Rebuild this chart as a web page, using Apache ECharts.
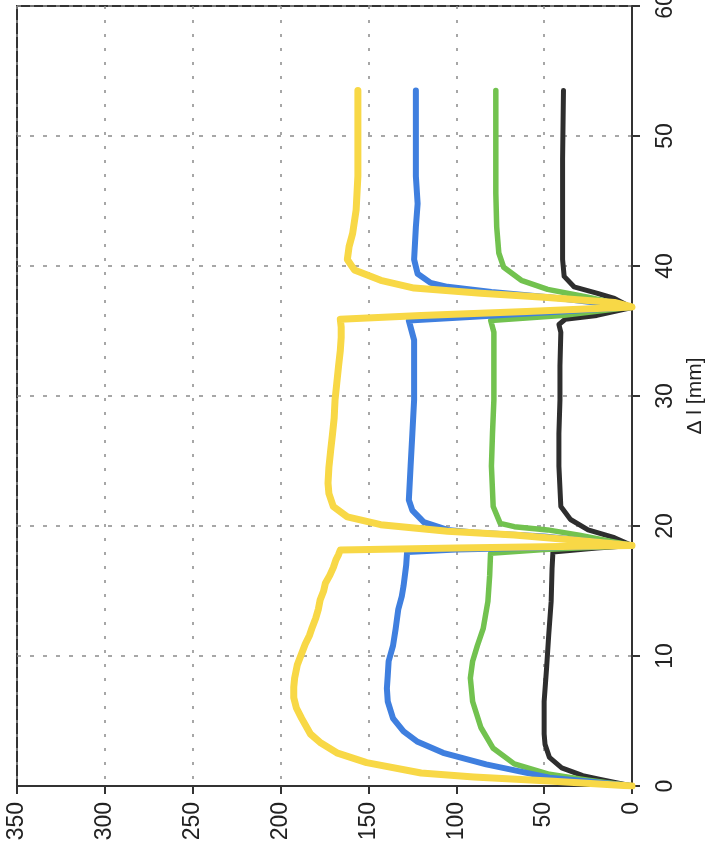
<!DOCTYPE html>
<html>
<head>
<meta charset="utf-8">
<script src="https://cdn.jsdelivr.net/npm/echarts@6/dist/echarts.min.js"></script>
<style>
  html, body { margin: 0; padding: 0; background: #fff; }
  #chart { width: 716px; height: 859px; }
</style>
</head>
<body>
<div id="chart"></div>
<script>
// Force axis (horizontal, reversed) and elongation axis (vertical, right side)
const forceTicks = [0, 50, 100, 150, 200, 250, 300, 350];
const elongTicks = [0, 10, 20, 30, 40, 50, 60];
const elongName = 'Δ l [mm]';

// Each curve: [force, elongation in mm], three loading cycles
const curveYellow = [
  [0,0],[47,0.38],[90,0.7],[120,1.0],[151,1.8],[168,2.55],[177,3.3],[183,4.0],[188,5.2],[191,6.0],[192.5,6.8],
  [192.5,7.6],[192,8.3],[190.5,9.3],[188,10.2],[186,10.9],[183.5,11.6],[182,12.2],[180,12.9],[178.5,13.6],
  [177.5,14.3],[175.5,15.0],[174.5,15.6],[172,16.2],[170,16.8],[168.5,17.4],[167,17.8],[166,18.15],
  [100,18.3],[0,18.5],
  [0,18.65],[35,18.95],[67,19.3],[105,19.6],[143,20.1],[162,20.7],[170,21.5],[172.5,22.5],[173,23.3],
  [172.5,24.5],[171.5,25.8],[170.5,27.0],[169.5,28.3],[169,29.7],[168,31.0],[167,32.3],[166,33.5],
  [165.5,34.5],[165.5,35.3],[166,35.9],[120,36.2],[60,36.5],[0,36.85],
  [0,36.9],[10,37.2],[50,37.6],[86,37.9],[124,38.3],[143,38.9],[158,39.7],[162,40.5],[161,41.5],
  [159,42.5],[157,44.3],[156,46.9],[156,49.4],[156,52.0],[156,53.5]
];
const curveBlue = [
  [0,0],[25,0.35],[47,0.64],[83,1.66],[107.5,2.55],[122,3.4],[130,4.2],[136,5.2],[139,6.5],[139.5,7.5],
  [139,8.5],[138.5,9.6],[136,10.8],[134.5,12.1],[133,13.6],[131,14.6],[130,15.4],[128.5,17.0],[128,18.0],
  [100,18.2],[50,18.35],[0,18.5],
  [0,18.6],[50,19.2],[90,19.5],[105,19.7],[118.5,20.3],[125,21.2],[127,22.0],[126,24.6],[125,27.1],
  [124,29.7],[124,32.3],[124,34.3],[127,35.8],[90,36.1],[40,36.5],[0,36.85],
  [0,36.9],[40,37.5],[80,38.0],[105,38.4],[114.6,38.7],[122,39.4],[124,40.5],[123,43.0],[122,44.8],
  [123,46.9],[123,49.4],[123,52.0],[123,53.5]
];
const curveGreen = [
  [0,0],[25,0.45],[47,0.9],[67,1.7],[79,2.9],[86,4.5],[90.7,6.5],[92,8.3],[90.7,9.6],[88,10.8],
  [84.7,12.1],[82,14.2],[81,16.2],[80.5,17.9],[50,18.2],[0,18.5],
  [0,18.6],[30,19.3],[48,19.7],[67,19.95],[75,20.2],[79,21.5],[80,24.6],[79.4,27.1],[78.6,29.7],
  [78.6,32.3],[78.6,34.9],[80.4,35.8],[40,36.2],[0,36.85],
  [0,36.9],[25,37.6],[48,38.2],[63,38.9],[73,39.9],[75.8,41.0],[77,43.0],[77.5,45.6],[77.5,48.2],
  [77.5,50.7],[77.5,53.5]
];
const curveBlack = [
  [0,0],[18,0.5],[28,0.8],[40,1.4],[47,2.2],[49.5,3.2],[50,4.0],[50,6.5],[48.6,9.1],[47.4,11.6],
  [46,14.2],[45.5,16.7],[45,18.0],[20,18.3],[0,18.5],
  [0,18.6],[10,19.1],[25,19.7],[35,20.5],[40.5,21.5],[41.6,24.6],[41.6,27.1],[41,29.7],[41,32.3],
  [40.5,34.9],[41.6,35.5],[38,35.9],[20,36.2],[0,36.8],
  [0,36.9],[10,37.5],[19.6,37.9],[33,38.4],[38.6,39.2],[39.5,40.5],[39.5,43.0],[39.5,48.2],[39,53.5]
];

const labelFont = { fontFamily: 'Liberation Sans, Arial, sans-serif', color: '#222' };

function curve(name, data, color, width) {
  return {
    name: name,
    type: 'line',
    data: data,
    showSymbol: false,
    symbol: 'none',
    animation: false,
    lineStyle: { color: color, width: width, cap: 'round', join: 'round' }
  };
}

const chart = echarts.init(document.getElementById('chart'), null, { renderer: 'canvas' });
chart.setOption({
  backgroundColor: '#ffffff',
  animation: false,
  grid: {
    left: 17, right: 84, top: 6, bottom: 73,
    containLabel: false,
    outerBoundsMode: 'none',
    show: true, borderColor: '#333', borderWidth: 2, backgroundColor: 'transparent'
  },
  xAxis: {
    type: 'value',
    inverse: true,
    position: 'bottom',
    min: forceTicks[0],
    max: forceTicks[forceTicks.length - 1],
    interval: forceTicks[1] - forceTicks[0],
    axisLine: { show: true, onZero: false, lineStyle: { color: '#333', width: 2 } },
    axisTick: { show: true, length: 8, lineStyle: { color: '#333', width: 2 } },
    axisLabel: Object.assign({ rotate: 90, fontSize: 23, margin: 16, showMinLabel: true, showMaxLabel: true }, labelFont),
    splitLine: { show: true, lineStyle: { color: '#8a8a8a', width: 1.5, type: [3, 11] } }
  },
  yAxis: {
    type: 'value',
    position: 'right',
    min: elongTicks[0],
    max: elongTicks[elongTicks.length - 1],
    interval: elongTicks[1] - elongTicks[0],
    name: elongName,
    nameLocation: 'middle',
    nameRotate: 90,
    nameGap: 52,
    nameTextStyle: Object.assign({ fontSize: 21 }, labelFont),
    axisLine: { show: true, onZero: false, lineStyle: { color: '#333', width: 2 } },
    axisTick: { show: true, length: 8, lineStyle: { color: '#333', width: 2 } },
    axisLabel: Object.assign({ rotate: 90, fontSize: 23, margin: 22, showMinLabel: true, showMaxLabel: true }, labelFont),
    splitLine: { show: true, lineStyle: { color: '#8a8a8a', width: 1.5, type: [4, 9] } }
  },
  series: [
    curve('black', curveBlack, '#2e2e2e', 5),
    curve('green', curveGreen, '#72c24f', 5.5),
    curve('blue', curveBlue, '#3f7fdf', 6),
    curve('yellow', curveYellow, '#f8d846', 7)
  ]
});
</script>
</body>
</html>
